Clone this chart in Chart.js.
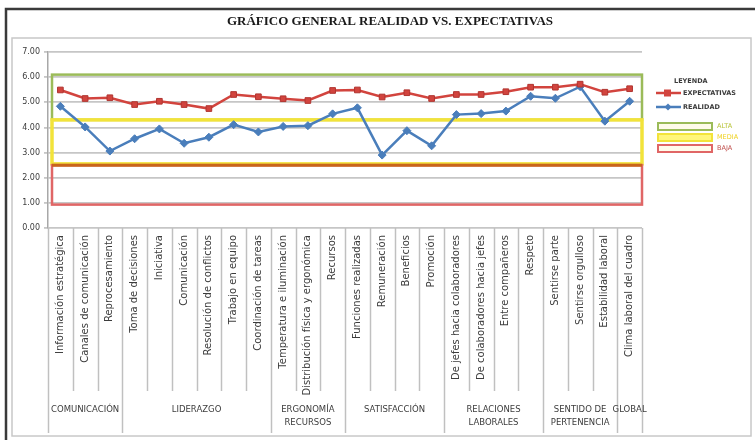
<!DOCTYPE html>
<html>
<head>
<meta charset="utf-8">
<script src="https://cdn.jsdelivr.net/npm/chart.js@4.4.1/dist/chart.umd.min.js"></script>
<style>
  html, body { margin: 0; padding: 0; background: #fff; }
  canvas { display: block; }
</style>
</head>
<body>
<canvas id="chart" width="755" height="440"></canvas>
<script>
// --- data ---
const categories = [
  'Información estratégica', 'Canales de comunicación', 'Reprocesamiento',
  'Toma de decisiones', 'Iniciativa', 'Comunicación', 'Resolución de conflictos',
  'Trabajo en equipo', 'Coordinación de tareas',
  'Temperatura e iluminación', 'Distribución física y ergonómica', 'Recursos',
  'Funciones realizadas', 'Remuneración', 'Beneficios', 'Promoción',
  'De jefes hacia colaboradores', 'De colaboradores hacia jefes', 'Entre compañeros', 'Respeto',
  'Sentirse parte', 'Sentirse orgulloso', 'Estabilidad laboral',
  'Clima laboral del cuadro'
];
const groupNames = [
  ['COMUNICACIÓN'], ['LIDERAZGO'], ['ERGONOMÍA', 'RECURSOS'], ['SATISFACCIÓN'],
  ['RELACIONES', 'LABORALES'], ['SENTIDO DE', 'PERTENENCIA'], ['GLOBAL']
];
const groupSizes = [3, 6, 3, 4, 4, 3, 1];

const expectativas = [5.49, 5.15, 5.18, 4.91, 5.04, 4.91, 4.75, 5.31, 5.22,
  5.14, 5.07, 5.47, 5.49, 5.21, 5.38, 5.15, 5.31, 5.31, 5.42, 5.60, 5.60, 5.72, 5.40, 5.54];
const realidad = [4.84, 4.02, 3.06, 3.55, 3.94, 3.37, 3.61, 4.11, 3.82,
  4.04, 4.07, 4.54, 4.78, 2.90, 3.87, 3.27, 4.51, 4.55, 4.65, 5.24, 5.16, 5.62, 4.25, 5.04];

const yTicks = [0, 1, 2, 3, 4, 5, 6, 7];

// level bands (ALTA / MEDIA / BAJA)
const bandNames = ['ALTA', 'MEDIA', 'BAJA'];
const bandTop = [6.1, 4.3, 2.5];
const bandBottom = [4.3, 2.55, 0.93];

const TITLE = 'GRÁFICO GENERAL REALIDAD VS. EXPECTATIVAS';
const RED = '#d2443e';
const BLUE = '#4a7ebb';
const TEXT = '#3c3c3c';

// --- plugins ---
const framePlugin = {
  id: 'frame',
  beforeDraw(chart) {
    const ctx = chart.ctx;
    ctx.save();
    ctx.fillStyle = '#fff';
    ctx.fillRect(0, 0, chart.width, chart.height);
    // outer frame
    ctx.strokeStyle = '#3a3a3a';
    ctx.lineWidth = 2.5;
    ctx.strokeRect(6, 9, 760, 440);
    // inner plot frame
    ctx.strokeStyle = '#c8c8c8';
    ctx.lineWidth = 1.5;
    ctx.strokeRect(12, 38, 739, 398);
    // title
    ctx.fillStyle = '#1a1a1a';
    ctx.font = 'bold 13px "Liberation Serif"';
    ctx.textAlign = 'center';
    ctx.textBaseline = 'middle';
    ctx.fillText(TITLE, 390, 22);
    ctx.restore();
  }
};

const bandStyles = [
  { stroke: '#9bbb59', width: 2.5 },
  { stroke: '#f2e33a', width: 3.5 },
  { stroke: '#e06666', width: 2.5 }
];

const bandsPlugin = {
  id: 'bands',
  beforeDatasetsDraw(chart) {
    const { ctx, chartArea, scales } = chart;
    const x0 = chartArea.left + 4, x1 = chartArea.right;
    ctx.save();
    bandNames.forEach((name, i) => {
      const yT = scales.y.getPixelForValue(bandTop[i]);
      const yB = scales.y.getPixelForValue(bandBottom[i]);
      const st = bandStyles[i];
      ctx.strokeStyle = st.stroke;
      ctx.lineWidth = st.width;
      ctx.strokeRect(x0, yT, x1 - x0, yB - yT);
    });
    // dark orange top edge of BAJA
    const yb = scales.y.getPixelForValue(bandTop[2]);
    ctx.strokeStyle = '#c8651b';
    ctx.lineWidth = 3;
    ctx.beginPath(); ctx.moveTo(x0, yb); ctx.lineTo(x1, yb); ctx.stroke();
    ctx.restore();
  }
};

const axisExtrasPlugin = {
  id: 'axisExtras',
  afterDraw(chart) {
    const { ctx, chartArea, scales } = chart;
    const xs = scales.x;
    const step = xs.getPixelForValue(1) - xs.getPixelForValue(0);
    const boundary = i => xs.getPixelForValue(i) - step / 2;
    const groupStarts = new Set();
    let acc = 0;
    groupSizes.forEach(n => { groupStarts.add(acc); acc += n; });
    groupStarts.add(acc);

    ctx.save();
    ctx.strokeStyle = '#c0c0c0';
    ctx.lineWidth = 1.5;
    for (let i = 0; i <= categories.length; i++) {
      const x = Math.round(boundary(i)) + 0.5;
      ctx.beginPath();
      ctx.moveTo(x, chartArea.bottom);
      ctx.lineTo(x, groupStarts.has(i) ? 433 : 391);
      ctx.stroke();
    }

    // group labels
    ctx.fillStyle = TEXT;
    ctx.font = '8.5px "DejaVu Sans"';
    ctx.textAlign = 'center';
    ctx.textBaseline = 'middle';
    acc = 0;
    groupSizes.forEach((n, g) => {
      const cx = (boundary(acc) + boundary(acc + n)) / 2;
      groupNames[g].forEach((line, k) => ctx.fillText(line, cx, 410 + k * 13));
      acc += n;
    });

    // legend
    ctx.font = 'bold 6.5px "DejaVu Sans"';
    ctx.textAlign = 'left';
    ctx.fillStyle = TEXT;
    ctx.fillText('LEYENDA', 674, 81);
    chart.data.datasets.forEach((ds, i) => {
      const y = 93 + i * 14;
      ctx.strokeStyle = ds.borderColor;
      ctx.lineWidth = 2.5;
      ctx.beginPath(); ctx.moveTo(656, y); ctx.lineTo(681, y); ctx.stroke();
      ctx.fillStyle = ds.pointBackgroundColor;
      ctx.beginPath();
      if (ds.pointStyle === 'rect') {
        ctx.rect(664, y - 3.5, 7, 7);
      } else {
        ctx.moveTo(668, y - 3.5); ctx.lineTo(671.5, y); ctx.lineTo(668, y + 3.5); ctx.lineTo(664.5, y);
        ctx.closePath();
      }
      ctx.fill();
      ctx.fillStyle = TEXT;
      ctx.fillText(ds.label, 683, y);
    });
    const legendText = ['#b8c43a', '#f0d21e', '#c0504d'];
    bandNames.forEach((name, i) => {
      const y = 123 + i * 11;
      const st = bandStyles[i];
      ctx.fillStyle = i === 1 ? '#fff67a' : '#fffbea';
      ctx.fillRect(658, y, 54, 7);
      ctx.strokeStyle = st.stroke;
      ctx.lineWidth = 2;
      ctx.strokeRect(658, y, 54, 7);
      ctx.fillStyle = legendText[i];
      ctx.font = '6.5px "DejaVu Sans"';
      ctx.fillText(name, 717, y + 3.5);
    });
    ctx.restore();
  }
};

// --- chart ---
new Chart(document.getElementById('chart'), {
  type: 'line',
  data: {
    labels: categories,
    datasets: [
      {
        label: 'EXPECTATIVAS', data: expectativas,
        borderColor: RED, borderWidth: 2.5,
        pointStyle: 'rect', pointRadius: 4,
        pointBackgroundColor: RED, pointBorderColor: '#b03530', pointBorderWidth: 1
      },
      {
        label: 'REALIDAD', data: realidad,
        borderColor: BLUE, borderWidth: 2.5,
        pointStyle: 'rectRot', pointRadius: 4,
        pointBackgroundColor: BLUE, pointBorderColor: BLUE, pointBorderWidth: 1
      }
    ]
  },
  options: {
    responsive: false,
    devicePixelRatio: 1,
    animation: false,
    layout: { padding: { top: 52, right: 113, bottom: 0, left: 0 } },
    plugins: { legend: { display: false }, title: { display: false }, tooltip: { enabled: false } },
    scales: {
      x: {
        type: 'category',
        offset: true,
        grid: { display: false, drawTicks: false },
        border: { display: false },
        ticks: {
          autoSkip: false, minRotation: 90, maxRotation: 90, padding: 7,
          color: TEXT, font: { family: 'DejaVu Sans', size: 10 }
        },
        afterFit: s => { s.height = 212; }
      },
      y: {
        min: 0, max: 7,
        afterBuildTicks: s => { s.ticks = yTicks.map(v => ({ value: v })); },
        ticks: {
          padding: 4, color: TEXT, font: { family: 'DejaVu Sans', size: 8 },
          callback: v => Number(v).toFixed(2)
        },
        grid: { color: '#c6c6c6', lineWidth: 1.8, tickLength: 4 },
        border: { color: '#a8a8a8', width: 1.5 },
        afterFit: s => { s.width = 48; }
      }
    }
  },
  plugins: [framePlugin, bandsPlugin, axisExtrasPlugin]
});
</script>
</body>
</html>
